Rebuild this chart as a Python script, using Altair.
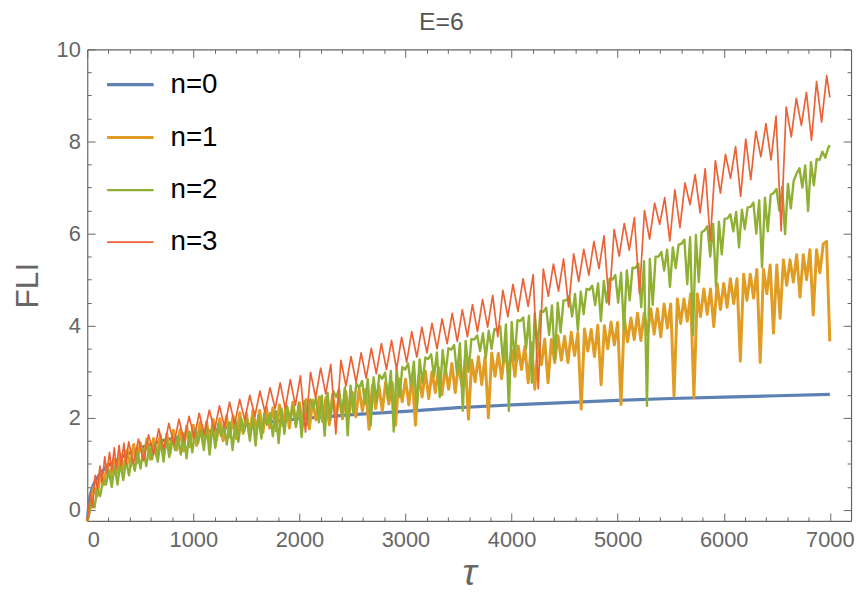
import altair as alt
import pandas as pd

FONT = "Liberation Sans"
GRAY = "#666666"
W, H = 771, 476

# ---------------- data ----------------
series_names = ["n=0", "n=1", "n=2", "n=3"]
series_colors = ["#5E81B5", "#E19C24", "#8FB032", "#EB6235"]
series_widths = [3.2, 3.0, 2.4, 1.7]
plot_title = "E=6"

x_major = [0, 1000, 2000, 3000, 4000, 5000, 6000, 7000]
x_minor = [200, 400, 600, 800, 1200, 1400, 1600, 1800, 2200, 2400, 2600, 2800,
           3200, 3400, 3600, 3800, 4200, 4400, 4600, 4800, 5200, 5400, 5600, 5800,
           6200, 6400, 6600, 6800]
y_major = [0, 2, 4, 6, 8, 10]
y_minor = [0.5, 1, 1.5, 2.5, 3, 3.5, 4.5, 5, 5.5, 6.5, 7, 7.5, 8.5, 9, 9.5]

# n=0 (smooth)
blue_tau = [0, 10, 25, 50, 75, 110, 175, 250, 350, 500, 700, 1000, 1300, 1600, 2000,
            2500, 3000, 3500, 4000, 4500, 5000, 5500, 6000, 6500, 7000]
blue_fli = [-0.24, 0.0, 0.3, 0.5, 0.63, 0.75, 0.93, 1.05, 1.18, 1.35, 1.5, 1.65, 1.78, 1.88, 1.98,
            2.07, 2.14, 2.22, 2.28, 2.33, 2.38, 2.42, 2.45, 2.48, 2.51]

# n=1 : peaks every 62.5 in tau, troughs half way between
orange_step = 62.5
orange_tops = [-0.24, 0.5, 0.8, 0.98, 1.1, 1.22, 1.3, 1.42, 1.46, 1.54,
               1.55, 1.63, 1.65, 1.73, 1.74, 1.82, 1.84, 1.9, 1.91, 1.97,
               1.98, 2.04, 2.04, 2.11, 2.1, 2.17, 2.16, 2.23, 2.22, 2.28,
               2.27, 2.34, 2.33, 2.4, 2.38, 2.45, 2.44, 2.51, 2.49, 2.57,
               2.55, 2.63, 2.62, 2.7, 2.69, 2.77, 2.76, 2.85, 2.84, 2.93,
               2.92, 3.01, 3.0, 3.09, 3.09, 3.18, 3.17, 3.26, 3.25, 3.33,
               3.32, 3.41, 3.4, 3.48, 3.47, 3.56, 3.55, 3.63, 3.62, 3.71,
               3.7, 3.78, 3.77, 3.86, 3.85, 3.93, 3.92, 4.01, 4.0, 4.08,
               4.07, 4.17, 4.17, 4.27, 4.27, 4.37, 4.37, 4.47, 4.47, 4.58,
               4.58, 4.69, 4.69, 4.8, 4.8, 4.91, 4.92, 5.02, 5.02, 5.12,
               5.12, 5.22, 5.22, 5.32, 5.32, 5.43, 5.43, 5.54, 5.54, 5.65,
               5.65, 5.77, 3.66]
orange_bottoms = [0.1, 0.3, 0.55, 0.7, 0.8, 0.88, 0.95, 1.02, 1.08, 1.1,
                  1.15, 1.2, 1.22, 1.3, 1.28, 1.37, 1.4, 1.45, 1.42, 1.52,
                  1.5, 1.58, 1.55, 1.66, 1.6, 1.72, 1.68, 1.78, 1.72, 1.83,
                  1.78, 1.86, 1.82, 1.76, 1.95, 1.92, 1.85, 2.02, 1.98, 2.08,
                  2.02, 2.15, 1.75, 2.2, 2.15, 2.3, 1.84, 2.35, 2.28, 1.84,
                  2.45, 2.42, 2.55, 2.5, 2.62, 2.55, 2.7, 1.97, 2.78, 2.72,
                  2.0, 2.9, 2.85, 2.98, 2.9, 3.05, 2.76, 2.62, 3.15, 2.76,
                  3.2, 3.25, 3.2, 3.35, 2.19, 3.45, 3.33, 2.72, 3.5, 3.58,
                  2.29, 3.65, 3.7, 3.68, 3.8, 3.82, 3.76, 3.95, 2.47, 4.05,
                  4.1, 2.44, 4.2, 4.25, 3.98, 4.35, 4.4, 4.48, 3.23, 4.55,
                  4.6, 3.2, 4.7, 3.84, 4.16, 4.88, 4.95, 4.62, 5.0, 4.23,
                  5.15, 5.83]

# n=2 : samples every 27.125 in tau starting at 13.75, grouped by spike cluster
green_t0, green_step = 13.75, 27.125
green_start = [-0.24]
green_early = [-0.15, 0.2, 0.05, 0.45, 0.3, 0.65]
green_clusters = [
    [0.55, 0.85, 0.5, 0.95, 0.55, 1.02, 0.65, 1.08],
    [0.75, 1.15, 0.85, 1.25, 0.9, 1.32, 0.95, 1.38],
    [1.1, 1.42, 1.05, 1.5, 1.05, 1.55, 1.15, 1.58],
    [1.3, 1.6, 1.2, 1.66, 1.12, 1.7, 1.25, 1.74],
    [1.45, 1.74, 1.3, 1.8, 1.2, 1.84, 1.35, 1.87],
    [1.6, 1.86, 1.42, 1.9, 1.3, 1.95, 1.48, 1.98],
    [1.7, 1.97, 1.5, 2.0, 1.4, 2.05, 1.55, 2.1],
    [1.85, 2.1, 1.6, 2.15, 1.45, 2.2, 1.65, 2.24],
    [1.95, 2.26, 1.8, 2.3, 1.58, 2.36, 1.85, 2.4],
    [2.2, 2.44, 1.9, 2.48, 1.61, 2.54, 1.95, 2.58],
    [2.45, 2.62, 2.05, 2.66, 1.62, 2.7, 2.1, 2.75],
    [2.65, 2.8, 2.3, 2.84, 1.83, 2.88, 2.35, 2.93],
    [2.85, 2.98, 2.4, 3.02, 1.70, 3.07, 2.45, 3.1],
    [3.05, 3.18, 2.7, 3.22, 2.2, 3.27, 2.75, 3.31],
    [3.28, 3.38, 2.9, 3.42, 2.45, 3.47, 2.95, 3.51],
    [3.48, 3.58, 2.95, 3.62, 2.15, 3.67, 3.0, 3.71],
    [3.7, 3.79, 3.45, 3.84, 3.3, 3.89, 3.5, 3.93],
    [3.9, 3.99, 3.2, 4.03, 2.15, 4.08, 3.25, 4.12],
    [4.1, 4.18, 3.5, 4.22, 2.76, 4.27, 3.55, 4.32],
    [4.3, 4.39, 3.8, 4.44, 3.26, 4.5, 3.85, 4.55],
    [4.55, 4.64, 4.2, 4.69, 3.9, 4.74, 4.25, 4.8],
    [4.78, 4.87, 4.45, 4.92, 4.1, 4.97, 4.5, 5.02],
    [5.0, 5.1, 4.5, 5.15, 3.9, 5.2, 4.55, 5.26],
    [5.25, 5.35, 4.4, 5.4, 2.26, 5.45, 4.45, 5.5],
    [5.5, 5.6, 5.2, 5.65, 4.84, 5.7, 5.25, 5.76],
    [5.78, 5.87, 4.9, 5.92, 3.8, 5.97, 4.95, 6.03],
    [6.07, 6.16, 5.5, 6.21, 4.85, 6.26, 5.55, 6.32],
    [6.33, 6.42, 6.05, 6.47, 5.7, 6.52, 6.1, 6.57],
    [6.58, 6.67, 6.0, 6.72, 5.27, 6.78, 6.05, 6.84],
    [6.88, 6.97, 6.5, 7.02, 5.99, 7.08, 6.55, 7.15],
    [7.3, 7.42, 7.0, 7.48, 6.49, 7.55, 7.05, 7.62],
]
green_tail = [7.6, 7.78, 7.65, 7.86]
green_end = 7.92

# n=3 : irregular start, then arches (peak / cusp) every 95.4 in tau
red_early_tau = [0, 30, 50, 75, 95, 120, 140, 165, 185, 210, 230, 255, 275, 300, 320,
                 345, 365, 390, 435]
red_early = [-0.24, 0.35, 0.05, 0.75, 0.45, 0.95, 0.6, 1.15, 0.8, 1.25, 0.85, 1.35, 0.9, 1.4, 0.95,
             1.45, 1.0, 1.48, 1.0]
red_t0, red_period = 483, 95.4
red_peaks = [1.54, 1.63, 1.76, 1.88, 1.97, 2.03, 2.10, 2.17, 2.26, 2.34,
             2.40, 2.49, 2.58, 2.65, 2.76, 2.83, 2.91, 2.99, 3.08, 3.16,
             3.25, 3.33, 3.41, 3.51, 3.61, 3.68, 3.75, 3.87, 3.97, 4.05,
             4.15, 4.27, 4.35, 4.46, 4.57, 4.66, 4.77, 4.90, 5.02, 5.11,
             5.23, 5.34, 5.45, 5.56, 5.66, 5.83, 5.95, 6.09, 6.22, 6.35,
             6.50, 6.66, 6.78, 6.95, 7.10, 7.28, 7.41, 7.58, 7.72, 7.89,
             8.05, 8.22, 8.39, 8.55, 8.75, 8.94, 9.07, 9.30, 9.43]
red_troughs = [1.08, 1.20, 1.32, 1.43, 1.50, 1.57, 1.64, 1.72, 1.80, 1.87,
               1.95, 2.03, 2.12, 2.20, 2.20, 2.27, 1.69, 2.44, 2.52, 1.65,
               2.69, 2.77, 2.86, 2.96, 3.05, 3.05, 3.21, 3.32, 3.41, 3.50,
               3.61, 3.66, 3.76, 3.87, 3.97, 3.76, 4.19, 4.31, 4.42, 2.63,
               4.64, 4.75, 4.41, 4.96, 5.10, 5.24, 4.45, 5.51, 5.64, 4.70,
               5.88, 6.20, 5.84, 6.13, 6.63, 6.45, 5.84, 6.88, 7.20, 6.81,
               7.17, 7.67, 7.60, 6.06, 8.10, 8.35, 8.03, 8.42]
red_end = 8.96
t_end = 7000

# ---------------- tables ----------------
blue_df = pd.DataFrame({"tau": blue_tau, "fli": blue_fli, "series": "n=0"})

o_tau, o_val = [], []
for k, v in enumerate(orange_tops):
    o_tau.append(k * orange_step)
    o_val.append(v)
    if k < len(orange_bottoms):
        o_tau.append(k * orange_step + orange_step / 2)
        o_val.append(orange_bottoms[k])
orange_df = pd.DataFrame({"tau": o_tau, "fli": o_val, "series": "n=1"})

g_grid = green_early + [v for row in green_clusters for v in row] + green_tail
g_tau = [0.0] + [green_t0 + green_step * i for i in range(len(g_grid))] + [t_end]
g_val = green_start + g_grid + [green_end]
green_df = pd.DataFrame({"tau": g_tau, "fli": g_val, "series": "n=2"})

r_tau, r_val = list(red_early_tau), list(red_early)
for k, p in enumerate(red_peaks):
    r_tau.append(red_t0 + red_period * k)
    r_val.append(p)
    if k < len(red_troughs):
        r_tau.append(red_t0 + red_period * (k + 0.5))
        r_val.append(red_troughs[k])
r_tau.append(t_end)
r_val.append(red_end)
red_df = pd.DataFrame({"tau": r_tau, "fli": r_val, "series": "n=3"})

# ---------------- encodings ----------------
xscale = alt.Scale(domain=[0, 7200], nice=False, zero=False)
yscale = alt.Scale(domain=[-0.24, 10], nice=False, zero=False)

legend = alt.Legend(title=None, orient="none", legendX=18, legendY=10,
                    symbolType="stroke", symbolSize=2209, labelFont=FONT,
                    labelFontSize=28, labelColor="black", rowPadding=14,
                    labelOffset=15, padding=0, labelLimit=0)
color = alt.Color("series:N", scale=alt.Scale(domain=series_names, range=series_colors),
                  legend=legend)
width_enc = alt.StrokeWidth("series:N",
                            scale=alt.Scale(type="ordinal", domain=series_names, range=series_widths),
                            legend=legend)

x_main = alt.Axis(orient="bottom", values=x_major, format="d", labelFont=FONT, labelFontSize=22,
                  labelColor=GRAY, labelPadding=9, ticks=False, tickSize=0, domain=True,
                  domainColor=GRAY, domainWidth=1.2, grid=False, title="τ", titleFont=FONT,
                  titleFontSize=38, titleFontStyle="italic", titleFontWeight="normal",
                  titleColor=GRAY, titlePadding=4)
y_main = alt.Axis(orient="left", values=y_major, format="d", labelFont=FONT, labelFontSize=22,
                  labelColor=GRAY, labelPadding=7, ticks=False, tickSize=0, domain=True,
                  domainColor=GRAY, domainWidth=1.2, grid=False, title="FLI", titleFont=FONT,
                  titleFontSize=32, titleFontWeight="normal", titleColor=GRAY, titlePadding=12)

# top axis that only carries the plot label "E=6"
x_title_axis = alt.Axis(orient="top", offset=0, labels=False, ticks=False, domain=False,
                        grid=False, title=plot_title, titleFont=FONT, titleFontSize=25,
                        titleFontWeight="normal", titleColor="#555555", titleX=357,
                        titleY=-20, titleAlign="center", titleBaseline="alphabetic",
                        titleAngle=0)


def tick_axis(orient, offset, values, size, domain=False):
    return alt.Axis(orient=orient, offset=offset, values=values, labels=False, ticks=True,
                    tickSize=size, tickColor=GRAY, tickWidth=1, domain=domain,
                    domainColor=GRAY, domainWidth=1.2, grid=False, title=None)


def line_layer(df, xaxis, yaxis):
    return alt.Chart(df).mark_line(strokeJoin="round").encode(
        x=alt.X("tau:Q", scale=xscale, axis=xaxis),
        y=alt.Y("fli:Q", scale=yscale, axis=yaxis),
        color=color,
        strokeWidth=width_enc,
        order=alt.Order("tau:Q"),
    )


l_blue = line_layer(blue_df, x_main, y_main)
l_orange = line_layer(orange_df, tick_axis("top", -H, x_major, 8), tick_axis("right", -W, y_major, 8))
l_green = line_layer(green_df, tick_axis("top", -H, x_minor, 4), tick_axis("right", -W, y_minor, 4))
l_red = line_layer(red_df, tick_axis("bottom", -H, x_major, 8, True), tick_axis("left", -W, y_major, 8, True))
l_ghost = alt.Chart(blue_df).mark_line(opacity=0).encode(
    x=alt.X("tau:Q", scale=xscale, axis=tick_axis("bottom", -H, x_minor, 4)),
    y=alt.Y("fli:Q", scale=yscale, axis=tick_axis("left", -W, y_minor, 4)),
)
l_label = alt.Chart(blue_df).mark_line(opacity=0).encode(
    x=alt.X("tau:Q", scale=xscale, axis=x_title_axis),
    y=alt.Y("fli:Q", scale=yscale, axis=None),
)

chart = alt.layer(l_label, l_ghost, l_blue, l_orange, l_green, l_red).resolve_axis(
    x="independent", y="independent"
).properties(
    width=W, height=H,
    padding={"left": 80, "top": 39, "right": 5, "bottom": 80},
    autosize=alt.AutoSizeParams(type="none"),
).configure_view(strokeWidth=0)

chart.save("out.html", embed_options={"renderer": "svg", "actions": False})
